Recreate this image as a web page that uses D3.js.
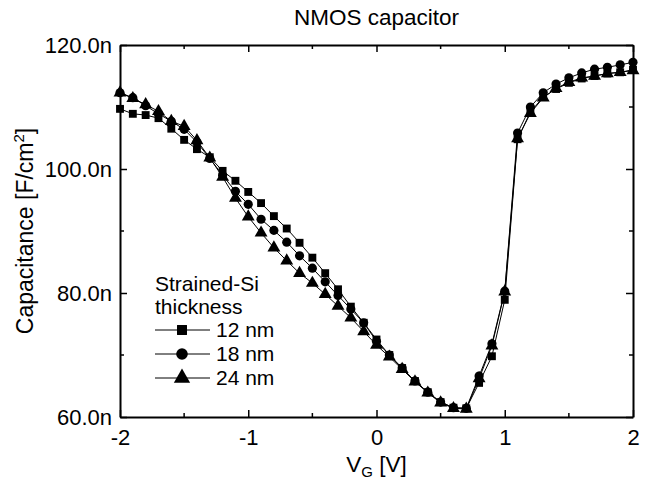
<!DOCTYPE html>
<html>
<head>
<meta charset="utf-8">
<script src="https://cdn.jsdelivr.net/npm/d3@7"></script>
<style>
    body { margin: 0; background: #fff; }
    text { font-family: "Liberation Sans", Arial, sans-serif; fill: #000; }
</style>
</head>
<body>
<div id="chart"></div>
<script>
// gate voltage (V)
const vg = [-2.0, -1.9, -1.8, -1.7, -1.6, -1.5, -1.4, -1.3, -1.2, -1.1, -1.0,
    -0.9, -0.8, -0.7, -0.6, -0.5, -0.4, -0.3, -0.2, -0.1, 0.0,
    0.1, 0.2, 0.3, 0.4, 0.5, 0.6, 0.7, 0.8, 0.9, 1.0,
    1.1, 1.2, 1.3, 1.4, 1.5, 1.6, 1.7, 1.8, 1.9, 2.0];

// capacitance in nF/cm2
const cap12 = [109.7, 108.9, 108.7, 108.2, 106.5, 104.7, 103.2, 101.9, 99.7, 98.1, 96.3,
    94.5, 92.4, 90.4, 88.1, 85.7, 83.2, 80.6, 77.8, 75.2, 72.5,
    70.0, 67.9, 65.8, 64.0, 62.4, 61.5, 61.4, 65.5, 69.8, 78.9,
    104.8, 109.2, 111.6, 112.9, 113.9, 114.6, 115.0, 115.4, 115.6, 116.0];
const cap18 = [112.3, 111.5, 110.2, 108.9, 107.7, 106.4, 104.3, 101.7, 99.0, 96.4, 94.3,
    91.9, 90.1, 88.2, 86.0, 84.0, 81.8, 79.6, 77.4, 75.2, 72.2,
    70.0, 67.9, 65.8, 64.0, 62.4, 61.5, 61.4, 66.6, 71.8, 80.3,
    105.8, 110.0, 112.3, 113.7, 114.7, 115.5, 116.1, 116.4, 116.8, 117.2];
const cap24 = [112.3, 111.4, 110.4, 109.3, 107.7, 106.9, 104.6, 101.8, 98.7, 95.3, 92.3,
    89.7, 87.3, 85.2, 83.2, 81.6, 79.8, 77.9, 76.0, 73.8, 71.6,
    69.7, 67.7, 65.7, 63.9, 62.3, 61.4, 61.3, 66.2, 71.5, 80.2,
    104.9, 109.0, 111.5, 113.0, 114.0, 114.7, 115.0, 115.4, 115.6, 115.9];

const seriesNames = ["12 nm", "18 nm", "24 nm"];
const xTicks = [-2, -1, 0, 1, 2];
const xMinor = [-1.5, -0.5, 0.5, 1.5];
const yTicks = [60, 80, 100, 120];
const yMinor = [70, 90, 110];

const W = 651, H = 479;
const margin = {top: 45, right: 18, bottom: 62, left: 120};
const width = W - margin.left - margin.right;
const height = H - margin.top - margin.bottom;

const svg = d3.select("#chart").append("svg")
    .attr("width", W)
    .attr("height", H);

const g = svg.append("g")
    .attr("transform", "translate(" + margin.left + "," + margin.top + ")");

const x = d3.scaleLinear().domain([-2, 2]).range([0, width]);
const y = d3.scaleLinear().domain([60, 120]).range([height, 0]);

const shapes = [d3.symbolSquare, d3.symbolCircle, d3.symbolTriangle];
const sizes = [62, 66, 72];
const series = [cap12, cap18, cap24];

// lines + markers
const line = d3.line()
    .x((d, i) => x(vg[i]))
    .y(d => y(d));

series.forEach((vals, k) => {
    g.append("path")
        .datum(vals)
        .attr("d", line)
        .attr("fill", "none")
        .attr("stroke", "#000")
        .attr("stroke-width", 1);
});

series.forEach((vals, k) => {
    g.selectAll(".m" + k)
        .data(vals)
        .enter().append("path")
        .attr("class", "m" + k)
        .attr("d", d3.symbol().type(shapes[k]).size(sizes[k]))
        .attr("transform", (d, i) => "translate(" + x(vg[i]) + "," + y(d) + ")")
        .attr("fill", "#000");
});

// axes, ticks pointing inward on all four sides
const fmt = d => d.toFixed(1) + "n";

const axBottom = g.append("g").attr("transform", "translate(0," + height + ")")
    .call(d3.axisBottom(x).tickValues(xTicks).tickSizeInner(-7).tickSizeOuter(0).tickPadding(12).tickFormat(d => String(d)));
axBottom.append("g").attr("class", "minor").selectAll("line").data(xMinor).enter().append("line")
    .attr("x1", d => x(d)).attr("x2", d => x(d)).attr("y1", 0).attr("y2", -4);

const axTop = g.append("g")
    .call(d3.axisTop(x).tickValues(xTicks).tickSizeInner(-7).tickSizeOuter(0).tickFormat(""));
axTop.append("g").attr("class", "minor").selectAll("line").data(xMinor).enter().append("line")
    .attr("x1", d => x(d)).attr("x2", d => x(d)).attr("y1", 0).attr("y2", 4);

const axLeft = g.append("g")
    .call(d3.axisLeft(y).tickValues(yTicks).tickSizeInner(-7).tickSizeOuter(0).tickPadding(8).tickFormat(fmt));
axLeft.append("g").attr("class", "minor").selectAll("line").data(yMinor).enter().append("line")
    .attr("y1", d => y(d)).attr("y2", d => y(d)).attr("x1", 0).attr("x2", 4);

const axRight = g.append("g").attr("transform", "translate(" + width + ",0)")
    .call(d3.axisRight(y).tickValues(yTicks).tickSizeInner(-7).tickSizeOuter(0).tickFormat(""));
axRight.append("g").attr("class", "minor").selectAll("line").data(yMinor).enter().append("line")
    .attr("y1", d => y(d)).attr("y2", d => y(d)).attr("x1", 0).attr("x2", -4);

g.selectAll(".domain").attr("stroke", "#000").attr("stroke-width", 2);
g.selectAll(".tick line, .minor line").attr("stroke", "#000").attr("stroke-width", 1.5);
g.selectAll(".tick text").attr("font-size", 22).attr("font-family", "Liberation Sans, Arial, sans-serif").attr("fill", "#000");

// titles
svg.append("text")
    .attr("x", margin.left + width / 2).attr("y", 25)
    .attr("text-anchor", "middle").attr("font-size", 22.5)
    .text("NMOS capacitor");

const xl = svg.append("text")
    .attr("x", margin.left + width / 2).attr("y", 472)
    .attr("text-anchor", "middle").attr("font-size", 22.5);
xl.append("tspan").text("V");
xl.append("tspan").attr("font-size", 15).attr("dy", 5).text("G");
xl.append("tspan").attr("dy", -5).text(" [V]");

const yl = svg.append("text")
    .attr("transform", "translate(33," + (margin.top + height / 2) + ") rotate(-90)")
    .attr("text-anchor", "middle").attr("font-size", 23);
yl.append("tspan").text("Capacitance [F/cm");
yl.append("tspan").attr("font-size", 15).attr("dy", -9).text("2");
yl.append("tspan").attr("dy", 9).text("]");

// legend
const leg = svg.append("g").attr("transform", "translate(155,0)");
leg.append("text").attr("x", 0).attr("y", 291).attr("font-size", 21).text("Strained-Si");
leg.append("text").attr("x", 0).attr("y", 314).attr("font-size", 21).text("thickness");
seriesNames.forEach((name, k) => {
    const ry = 330 + k * 24;
    leg.append("line").attr("x1", 0).attr("x2", 55).attr("y1", ry).attr("y2", ry)
        .attr("stroke", "#000").attr("stroke-width", 1);
    leg.append("path")
        .attr("d", d3.symbol().type(shapes[k]).size(sizes[k] * 1.6))
        .attr("transform", "translate(27," + ry + ")");
    leg.append("text").attr("x", 61).attr("y", ry + 7).attr("font-size", 21).text(name);
});
</script>
</body>
</html>
